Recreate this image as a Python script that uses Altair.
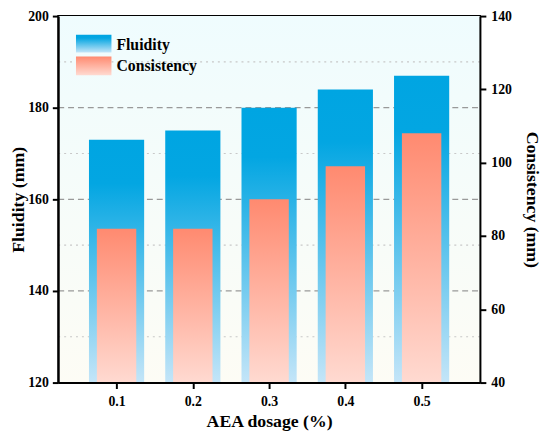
import altair as alt
import pandas as pd

# ---- data ----
dosage = [0.1, 0.2, 0.3, 0.4, 0.5]
fluidity = [173, 175, 180, 184, 187]
consistency = [82, 82, 90, 99, 108]
left_ticks = [120, 140, 160, 180, 200]
right_ticks = [40, 60, 80, 100, 120, 140]
dashed_grid = [140, 160, 180]
dotted_grid = [130, 150, 170, 190]
legend_labels = ["Fluidity", "Consistency"]

W, H = 428, 372
FONT = "Liberation Serif"

df = pd.DataFrame({"dosage": dosage, "fluidity": fluidity, "consistency": consistency})
dash_df = pd.DataFrame({"v": dashed_grid})
dot_df = pd.DataFrame({"v": dotted_grid})
one = pd.DataFrame({"k": [0]})

blue_grad = {"gradient": "linear", "x1": 0, "x2": 0, "y1": 0, "y2": 1,
             "stops": [{"offset": 0, "color": "#00A5E2"},
                       {"offset": 0.18, "color": "#03A6E2"},
                       {"offset": 1, "color": "#C4E5F8"}]}
red_grad = {"gradient": "linear", "x1": 0, "x2": 0, "y1": 0, "y2": 1,
            "stops": [{"offset": 0, "color": "#FF8A70"},
                      {"offset": 1, "color": "#FFDAD1"}]}
bg_grad = {"gradient": "linear", "x1": 0, "x2": 0, "y1": 0, "y2": 1,
           "stops": [{"offset": 0, "color": "#EFFCFE"},
                     {"offset": 1, "color": "#FDFCF5"}]}

xscale = alt.Scale(domain=[0.03, 0.57], nice=False, zero=False)
yl = alt.Scale(domain=[120, 200], nice=False, zero=False)
yr = alt.Scale(domain=[40, 140], nice=False, zero=False)

axis_common = dict(labelFont=FONT, labelFontWeight="bold", labelFontSize=14, labelColor="black",
                   titleFont=FONT, titleFontWeight="bold", titleFontSize=18, titleColor="black",
                   domainColor="black", domainWidth=2, tickColor="black", tickWidth=2,
                   tickSize=6, grid=False, zindex=1)

xaxis = alt.Axis(values=dosage, format=".1f", title="AEA dosage (%)", labelPadding=6,
                 titlePadding=5, **axis_common)
laxis = alt.Axis(values=left_ticks, title="Fluidity (mm)", labelPadding=4,
                 titlePadding=0, **axis_common)
raxis = alt.Axis(values=right_ticks, orient="right", title="Consistency (mm)",
                 labelPadding=5, titlePadding=11, **axis_common)

bg = alt.Chart(one).mark_rect(color=bg_grad).encode(
    x=alt.value(0), x2=alt.value(W), y=alt.value(0), y2=alt.value(H))

dash = alt.Chart(dash_df).mark_rule(color="#999999", strokeWidth=1.2, strokeDash=[6, 4]).encode(
    x=alt.value(0), x2=alt.value(W), y=alt.Y("v:Q", scale=yl, axis=laxis))
dot = alt.Chart(dot_df).mark_rule(color="#C8C8C8", strokeWidth=1.2, strokeDash=[2, 4]).encode(
    x=alt.value(0), x2=alt.value(W), y=alt.Y("v:Q", scale=yl, axis=laxis))

blue = alt.Chart(df).mark_bar(size=56, color=blue_grad).encode(
    x=alt.X("dosage:Q", scale=xscale, axis=xaxis),
    y=alt.Y("fluidity:Q", scale=yl, axis=laxis),
    y2=alt.datum(120),
)

red = alt.Chart(df).mark_bar(size=40, color=red_grad).encode(
    x=alt.X("dosage:Q", scale=xscale, axis=xaxis),
    y=alt.Y("consistency:Q", scale=yr, axis=raxis),
    y2=alt.datum(40),
)

leg_b = alt.Chart(one).mark_rect(color=blue_grad).encode(
    x=alt.value(18), x2=alt.value(54), y=alt.value(19), y2=alt.value(37))
leg_r = alt.Chart(one).mark_rect(color=red_grad).encode(
    x=alt.value(18), x2=alt.value(54), y=alt.value(41), y2=alt.value(60))
leg_t1 = alt.Chart(pd.DataFrame({"label": [legend_labels[0]]})).mark_text(
    font=FONT, fontWeight="bold", fontSize=16, align="left", baseline="middle", color="black").encode(
    text="label:N", x=alt.value(59), y=alt.value(29))
leg_t2 = alt.Chart(pd.DataFrame({"label": [legend_labels[1]]})).mark_text(
    font=FONT, fontWeight="bold", fontSize=16, align="left", baseline="middle", color="black").encode(
    text="label:N", x=alt.value(59), y=alt.value(51))

left_layer = alt.layer(bg, dash, dot, blue)
right_layer = alt.layer(red, leg_b, leg_r, leg_t1, leg_t2)

chart = alt.layer(left_layer, right_layer).resolve_scale(y="independent").properties(
    width=W, height=H,
    autosize=alt.AutoSizeParams(type="none"),
    padding={"left": 51, "top": 5, "right": 63, "bottom": 50},
    background="white",
).configure_view(stroke="black", strokeWidth=2)

chart.save("out.html", embed_options={"renderer": "svg", "actions": False})
